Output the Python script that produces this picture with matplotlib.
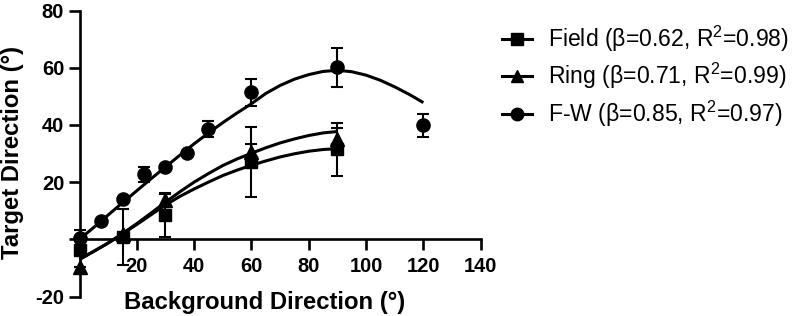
import matplotlib
matplotlib.use("Agg")
import matplotlib.pyplot as plt

plt.rcParams['font.family'] = ['Liberation Sans', 'DejaVu Sans']
plt.rcParams['mathtext.fontset'] = 'custom'
plt.rcParams['mathtext.rm'] = 'Liberation Sans'
plt.rcParams['mathtext.it'] = 'Liberation Sans:italic'
plt.rcParams['mathtext.bf'] = 'Liberation Sans:bold'

# ---- data ----
fw_x = [0, 7.5, 15, 22.5, 30, 37.5, 45, 60, 90, 120]
fw_y = [0.5, 6.4, 14, 22.7, 25.2, 30.1, 38.6, 51.4, 60.1, 39.8]
fw_err = [2.8, 0, 0, 2.7, 0, 0, 2.7, 4.7, 6.7, 4.0]

field_x = [0, 15, 30, 60, 90]
field_y = [-3.8, 0.8, 8.4, 27.1, 31.5]
field_err = [0, 9.9, 7.7, 12.3, 9.3]

ring_x = [0, 15, 30, 60, 90]
ring_y = [-9.7, 2.0, 13.6, 30.5, 35.0]
ring_err = [0, 0, 2.4, 3.0, 4.0]

# fitted curves
fw_fit_x = [0, 5, 10, 15, 20, 25, 30, 35, 40, 45, 50, 55, 60, 65, 70, 75, 80,
            85, 90, 95, 100, 105, 110, 115, 120]
fw_fit_y = [0, 4.2, 8.5, 12.8, 17.0, 21.2, 25.3, 29.4, 33.4, 37.2, 40.8, 44.2,
            47.4, 51.0, 53.8, 56.0, 57.6, 58.7, 59.1, 58.6, 57.4, 55.6, 53.3,
            50.7, 47.8]
rf_fit_x = [0, 5, 10, 15, 20, 25, 30, 35, 40, 45, 50, 55, 60, 65, 70, 75, 80, 85, 90]
ring_fit_y = [-7, -4.2, -1.3, 2.0, 5.5, 9.2, 13.0, 16.6, 20.0, 23.0, 25.8,
              28.1, 30.1, 32.0, 33.7, 35.1, 36.3, 37.2, 37.7]
field_fit_y = [-7, -4.2, -1.3, 1.9, 5.2, 8.6, 12.0, 15.0, 17.6, 20.0, 22.3,
               24.2, 25.9, 27.4, 28.8, 29.9, 30.8, 31.4, 31.7]

labels = [r'Field (β=0.62, R$^{2}$=0.98)',
          r'Ring (β=0.71, R$^{2}$=0.99)',
          r'F-W (β=0.85, R$^{2}$=0.97)']

xticks = [20, 40, 60, 80, 100, 120, 140]
yticks = [-20, 0, 20, 40, 60, 80]
yticklabels = ['-20', '', '20', '40', '60', '80']

fig = plt.figure(figsize=(8, 3.16), dpi=100)
ax = fig.add_axes([0.0994, 0.0617, 0.5015, 0.905])

lw_fit = 2.2
eb_kw = dict(fmt='none', ecolor='black', elinewidth=1.5, capsize=4.5, capthick=1.5, clip_on=False)

ax.plot(fw_fit_x, fw_fit_y, color='black', lw=lw_fit, solid_capstyle='butt',
        solid_joinstyle='round', clip_on=False)
ax.plot(rf_fit_x, ring_fit_y, color='black', lw=lw_fit, solid_capstyle='butt',
        solid_joinstyle='round', clip_on=False)
ax.plot(rf_fit_x, field_fit_y, color='black', lw=lw_fit, solid_capstyle='butt',
        solid_joinstyle='round', clip_on=False)

ax.errorbar(fw_x, fw_y, yerr=fw_err, **eb_kw)
ax.errorbar(field_x, field_y, yerr=field_err, **eb_kw)
ax.errorbar(ring_x, ring_y, yerr=ring_err, **eb_kw)

ax.plot(field_x, field_y, 's', color='black', ms=8, clip_on=False, zorder=4)
ax.plot(ring_x, ring_y, '^', color='black', ms=9.5, clip_on=False, zorder=4)
ax.plot(fw_x, fw_y, 'o', color='black', ms=9.5, clip_on=False, zorder=4)

# legend handles
h1, = ax.plot([], [], '-s', color='black', lw=lw_fit, ms=8)
h2, = ax.plot([], [], '-^', color='black', lw=lw_fit, ms=9)
h3, = ax.plot([], [], '-o', color='black', lw=lw_fit, ms=9)
fig.legend([h1, h2, h3], labels, loc='upper left', bbox_to_anchor=(0.6275, 0.925),
           frameon=False, fontsize=16.6, handlelength=1.3, handletextpad=0.7,
           labelspacing=0.32, borderaxespad=0, borderpad=0)

ax.set_xlim(0, 140)
ax.set_ylim(-20, 80)
ax.spines['top'].set_visible(False)
ax.spines['right'].set_visible(False)
ax.spines['bottom'].set_position(('data', 0))
for s in ('left', 'bottom'):
    ax.spines[s].set_linewidth(1.9)
ax.set_xticks(xticks)
ax.set_yticks(yticks)
ax.set_yticklabels(yticklabels)
ax.tick_params(axis='both', width=1.9, length=8, labelsize=14.5)
ax.tick_params(axis='x', pad=5)
ax.tick_params(axis='y', pad=3)
for t in ax.get_xticklabels() + ax.get_yticklabels():
    t.set_fontweight('bold')

fig.text(0.331, 0.0212, 'Background Direction (°)', ha='center', va='baseline',
         fontsize=17.2, fontweight='bold')
fig.text(0.016, 0.517, 'Target Direction (°)', ha='center', va='center',
         rotation=90, fontsize=17.2, fontweight='bold')

fig.savefig('out.png', dpi=100)
